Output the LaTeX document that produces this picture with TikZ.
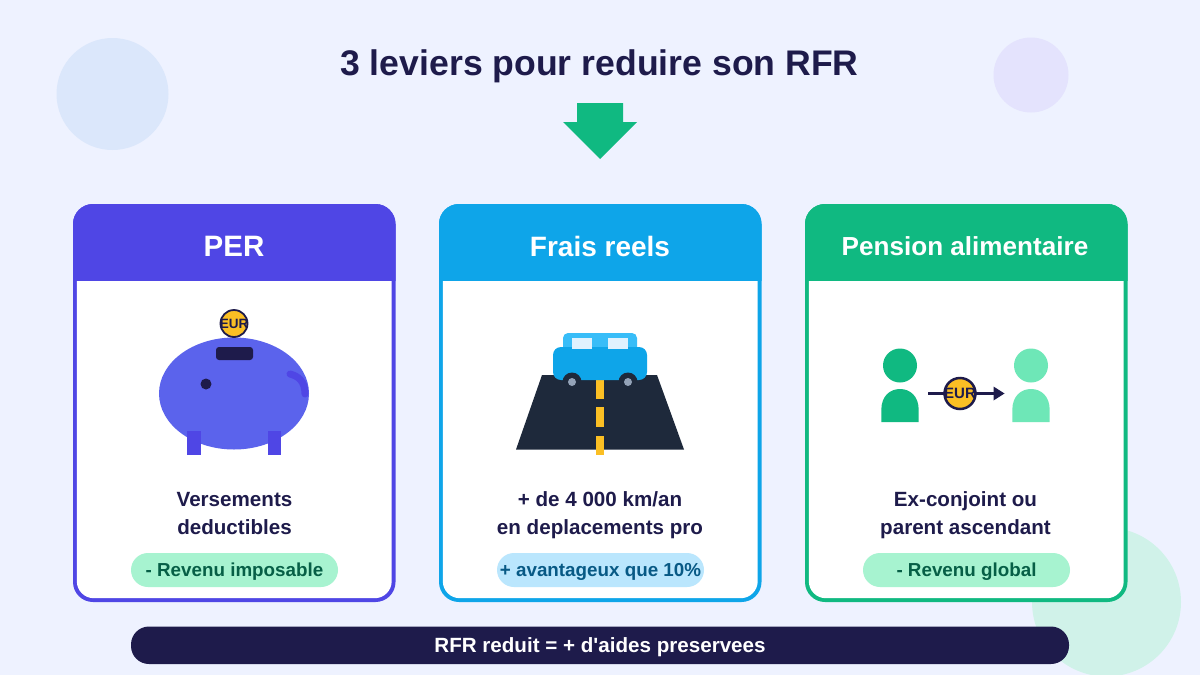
\documentclass[tikz,border=0pt]{standalone}
\usepackage{fontspec}
\setmainfont{Liberation Sans}
\newfontfamily\barfont{Liberation Sans}
\definecolor{bgc}{HTML}{EEF2FF}
\definecolor{ink}{HTML}{1E1B4B}
\definecolor{indigo}{HTML}{4F46E5}
\definecolor{sky}{HTML}{0EA5E9}
\definecolor{emer}{HTML}{10B981}
\definecolor{mint}{HTML}{A7F3D0}
\definecolor{lsky}{HTML}{BAE6FD}
\definecolor{gold}{HTML}{FBBF24}
\definecolor{asphalt}{HTML}{1E293B}
\definecolor{pig}{HTML}{5B63EC}
\definecolor{sky2}{HTML}{38BDF8}
\definecolor{pale}{HTML}{E0F2FE}
\definecolor{hub}{HTML}{94A3B8}
\definecolor{mint2}{HTML}{6EE7B7}
\definecolor{decoa}{HTML}{DBE7FB}
\definecolor{decob}{HTML}{E4E3FD}
\definecolor{decoc}{HTML}{D0F2E9}
\definecolor{deepgreen}{HTML}{065F46}
\definecolor{deepblue}{HTML}{075985}
\tikzset{
  x=1pt,y=-1pt,
  every node/.style={inner sep=0pt,outer sep=0pt},
  titletext/.style={font=\fontsize{35.6}{40}\selectfont\bfseries,text=ink},
  headtext/.style={font=\fontsize{28}{30}\selectfont\bfseries,text=white},
  headtextb/.style={font=\fontsize{26.1}{30}\selectfont\bfseries,text=white},
  headtextc/.style={font=\fontsize{29.5}{30}\selectfont\bfseries,text=white},
  bodytext/.style={font=\fontsize{20.6}{28}\selectfont\bfseries,text=ink,align=center},
  pilltext/.style={font=\fontsize{18.8}{22}\selectfont\bfseries},
  coin/.style={circle,draw=ink,fill=gold,line width=#1},
  cointext/.style={text=ink},
}
\newcommand{\card}[2]{% x-left, colour
  \begin{scope}
    \clip[rounded corners=20pt] (#1,204) rectangle (#1+322.5,602);
    \fill[#2] (#1-2,202) rectangle (#1+325,604);
    \fill[white,rounded corners=17pt] (#1+3.8,240) rectangle (#1+318.7,598.2);
    \fill[#2] (#1-2,202) rectangle (#1+325,281);
  \end{scope}
}
\newcommand{\pill}[4]{% x-left, colour, text colour, text
  \fill[#2,rounded corners=17pt] (#1,553) rectangle (#1+207,587);
  \node[pilltext,text=#3] at (#1+103.5,572) {#4};
}
\newcommand{\person}[2]{% centre x, colour
  \fill[#2] (#1,365.5) circle (17);
  \fill[#2] (#1-18.7,422) -- (#1-18.7,410) .. controls (#1-18.7,396) and (#1-10,389) .. (#1,389) .. controls (#1+10,389) and (#1+18.7,396) .. (#1+18.7,410) -- (#1+18.7,422) -- cycle;
}
\begin{document}
\begin{tikzpicture}
\useasboundingbox (0,0) rectangle (1200,675);
\fill[bgc] (0,0) rectangle (1200,675);
% decorative circles
\fill[decoa] (112.5,94) circle (56);
\fill[decob] (1031,75) circle (37.5);
\fill[decoc] (1106.5,602) circle (74.5);
% title
\node[titletext] (title) at (599.5,66) {3 leviers pour reduire son RFR};
\fill[emer] (577,103) -- (623,103) -- (623,122) -- (637,122) -- (600,159) -- (563,122) -- (577,122) -- cycle;
% cards
\card{73}{indigo}
\card{439}{sky}
\card{805}{emer}
\node[headtextc] (h1) at (234,246) {PER};
\node[headtext] (h2) at (600,246) {Frais reels};
\node[headtextb] (h3) at (965,246) {Pension alimentaire};
% piggy
\fill[pig] (234,393.5) ellipse [x radius=75, y radius=56];
\fill[ink,rounded corners=3pt] (216,347) rectangle (253,360);
\fill[ink] (206,384) circle (5.5);
\draw[indigo,line width=7pt,line cap=round] (290,374) .. controls (298,376) and (305,381) .. (305,394);
\fill[indigo] (187,431) rectangle (201,454.5);
\fill[indigo] (268,431) rectangle (281,454.5);
\node[coin=1.8pt,minimum size=27pt] (c1) at (234,323.5) {};
\node[cointext,font=\fontsize{13.5}{16}\selectfont\bfseries] at (c1) {EUR};
% road
\fill[asphalt] (542,375) -- (657,375) -- (684,449.5) -- (516,449.5) -- cycle;
\fill[gold] (596,379) rectangle (604,398.5);
\fill[gold] (596,407) rectangle (604,427);
\fill[gold] (596,436) rectangle (604,455);
\fill[sky2,rounded corners=5pt] (563,333) rectangle (637,352);
\fill[sky,rounded corners=8pt] (553,347) rectangle (647,380);
\fill[pale] (572,337.5) rectangle (592,349);
\fill[pale] (607.5,337.5) rectangle (628,349);
\fill[asphalt] (572,382) circle (9.5);
\fill[asphalt] (628,382) circle (9.5);
\fill[hub] (572,382) circle (4);
\fill[hub] (628,382) circle (4);
% people
\person{900}{emer}
\person{1031}{mint2}
\coordinate (as) at (928,393.5);
\coordinate (ae) at (1004.5,393.5);
\draw[ink,line width=3.5pt] (as) -- (994,393.5);
\fill[ink] (ae) -- (993.5,386.5) -- (993.5,400.5) -- cycle;
\node[coin=2.5pt,minimum size=31pt] (c3) at (960,393.5) {};
\node[cointext,font=\fontsize{15}{18}\selectfont\bfseries] at (c3) {EUR};
% body text
\node[bodytext] (t1) at (234.5,513.5) {Versements\\deductibles};
\node[bodytext] (t2) at (600,515.5) {+ de 4 000 km/an\\en deplacements pro};
\node[bodytext] (t3) at (965.5,515.5) {Ex-conjoint ou\\parent ascendant};
% pills
\pill{131}{mint}{deepgreen}{- Revenu imposable}
\pill{497}{lsky}{deepblue}{+ avantageux que 10\%}
\pill{863}{mint}{deepgreen}{- Revenu global}
% bar
\fill[ink,rounded corners=18pt] (131,626.5) rectangle (1069,664);
\node[font=\barfont\fontsize{20.6}{24}\selectfont\bfseries,text=white] (bar) at (600,647.5) {RFR reduit = + d'aides preservees};
\end{tikzpicture}
\end{document}
